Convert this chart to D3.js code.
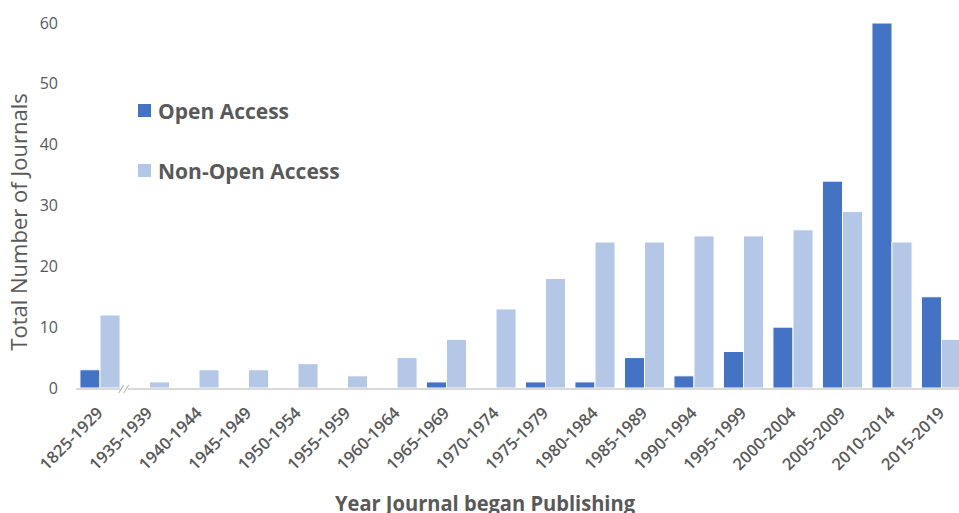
<!DOCTYPE html>
<html><head><meta charset="utf-8">
<script src="https://cdn.jsdelivr.net/npm/d3@7"></script>
<style>body{margin:0;background:#fff;overflow:hidden}svg{display:block;font-family:"Open Sans",sans-serif}</style>
</head><body><svg id="c" width="959" height="513"></svg>
<script>
const categories = ["1825-1929","1935-1939","1940-1944","1945-1949","1950-1954","1955-1959","1960-1964","1965-1969","1970-1974","1975-1979","1980-1984","1985-1989","1990-1994","1995-1999","2000-2004","2005-2009","2010-2014","2015-2019"];
const openAccess = [3,0,0,0,0,0,0,1,0,1,1,5,2,6,10,34,60,15];
const nonOpenAccess = [12,1,3,3,4,2,5,8,13,18,24,24,25,25,26,29,24,8];
const seriesNames = ["Open Access","Non-Open Access"];
const yTicks = [0,10,20,30,40,50,60];
const colors = ["#4472C4","#B4C7E7"];

const svg = d3.select("#c");
const x0 = d3.scaleBand().domain(categories).range([75.25, 75.25 + 18*49.5]).paddingInner(0.19).paddingOuter(0.095);
const x1 = d3.scaleBand().domain(seriesNames).range([0, x0.bandwidth()]);
const y = d3.scaleLinear().domain([0,60]).range([388, 23]);

// y tick labels
const yAxis = svg.append("g").attr("transform","translate(60,0)")
  .call(d3.axisLeft(y).tickValues(yTicks).tickSize(0).tickPadding(2));
yAxis.select(".domain").remove();
yAxis.selectAll("text").attr("font-size",16).attr("fill","#595959").attr("font-family","Open Sans");

// bars
const data = categories.map((c,i)=>({c, vals:[openAccess[i], nonOpenAccess[i]]}));
const g = svg.append("g");
g.selectAll("g.grp").data(data).join("g").attr("class","grp")
  .attr("transform", d=>`translate(${x0(d.c)},0)`)
  .selectAll("rect").data(d=>d.vals.map((v,k)=>({k,v}))).join("rect")
  .attr("x", d=>x1(seriesNames[d.k]))
  .attr("width", x1.bandwidth())
  .attr("y", d=>y(d.v))
  .attr("height", d=>y(0)-y(d.v))
  .attr("fill", d=>colors[d.k])
  .attr("stroke","#fff").attr("stroke-width",1);

// x axis line
svg.append("line").attr("x1",76).attr("x2",959).attr("y1",y(0)+1).attr("y2",y(0)+1)
  .attr("stroke","#d9d9d9").attr("stroke-width",2);
// break mark
const bx = (x0(categories[0]) + x0.bandwidth() + x0(categories[1]))/2;
svg.append("rect").attr("x",bx-4).attr("y",y(0)-2).attr("width",7).attr("height",6).attr("fill","#fff");
[-3,2].forEach(o=>svg.append("line").attr("x1",bx+o-3).attr("y1",y(0)+5).attr("x2",bx+o+2).attr("y2",y(0)-3)
  .attr("stroke","#bfbfbf").attr("stroke-width",1.2));

// x labels
svg.append("g").selectAll("text").data(categories).join("text")
  .attr("transform", d=>`translate(${x0(d)+x0.bandwidth()/2+4},${y(0)+26}) rotate(-45)`)
  .attr("text-anchor","end").attr("font-size",16.5).attr("font-weight",600).attr("fill","#595959")
  .text(d=>d);

// axis titles
svg.append("text").attr("transform","translate(27,222) rotate(-90)").attr("text-anchor","middle")
  .attr("font-size",22).attr("fill","#595959").text("Total Number of Journals");
svg.append("text").attr("x",485).attr("y",511).attr("text-anchor","middle")
  .attr("font-size",22).attr("font-weight",700).attr("fill","#595959")
  .attr("textLength",300).attr("lengthAdjust","spacingAndGlyphs").text("Year Journal began Publishing");

// legend
seriesNames.forEach((n,i)=>{
  const ly = 111 + i*60;
  svg.append("rect").attr("x",138).attr("y",ly-7).attr("width",13).attr("height",13).attr("fill",colors[i]);
  svg.append("text").attr("x",158).attr("y",ly+7.5).attr("font-size",21).attr("font-weight",700)
    .attr("fill","#595959").text(n);
});
</script></body></html>
